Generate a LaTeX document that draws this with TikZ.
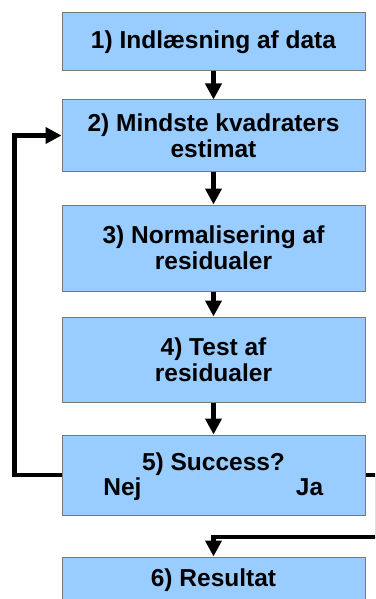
\documentclass[tikz,border=0pt]{standalone}
\usepackage{fontspec}
\setmainfont{Liberation Sans}
\usetikzlibrary{arrows.meta}
\definecolor{boxfill}{RGB}{153,204,255}
\definecolor{boxline}{RGB}{120,120,120}
\tikzset{
  stepbox/.style={draw=boxline, line width=1pt, fill=boxfill, minimum width=303pt, inner sep=0pt, align=center, font=\fontsize{24.5}{26}\selectfont\bfseries},
  lbl/.style={inner sep=0pt, font=\fontsize{24.5}{26}\selectfont\bfseries},
  flow/.style={line width=4.6pt, line join=miter, -{Triangle[width=16pt,length=16pt]}},
}
\begin{document}
\begin{tikzpicture}[x=1pt,y=-1pt]
\useasboundingbox (0,0) rectangle (375,599);
\clip (0,0) rectangle (375,599);
\fill[white] (0,0) rectangle (375,599);
\node[stepbox, minimum height=57.5pt] (b1) at (213.5,41.75) {1) Indlæsning af data};
\node[stepbox, minimum height=71pt] (b2) at (213.5,135.5) {2) Mindste kvadraters\\estimat};
\node[stepbox, minimum height=86pt] (b3) at (213.5,248) {3) Normalisering af\\residualer};
\node[stepbox, minimum height=85pt] (b4) at (213.5,359.5) {4) Test af\\residualer};
\node[stepbox, minimum height=80pt] (b5) at (213.5,475) {};
\node[stepbox, minimum height=46pt] (b6) at (213.5,580) {6) Resultat};
\node[lbl, anchor=base] (q5) at (213.5,470) {5) Success?};
\node[lbl, anchor=base] (nej) at (122.5,495) {Nej};
\node[lbl, anchor=base] (ja) at (309.5,495) {Ja};
\coordinate (l1) at (14.5,475);
\coordinate (r1) at (377.5,537);
\draw[flow] (b1.south) -- (b2.north);
\draw[flow] (b2.south) -- (b3.north);
\draw[flow] (b3.south) -- (b4.north);
\draw[flow] (b4.south) -- (b5.north);
\draw[flow] (b5.west) -- (l1) |- (b2.west);
\draw[flow] (b5.east) -| (r1) -| (b6.north);
\end{tikzpicture}
\end{document}
